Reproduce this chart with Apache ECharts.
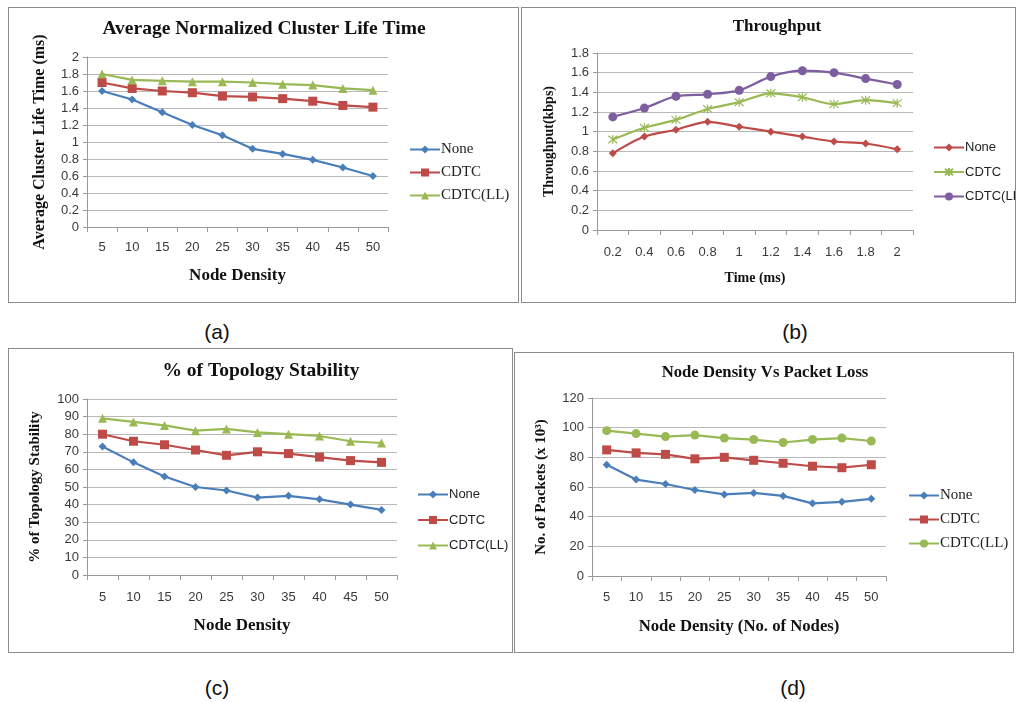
<!DOCTYPE html>
<html>
<head>
<meta charset="utf-8">
<script src="https://cdn.jsdelivr.net/npm/echarts@6/dist/echarts.min.js"></script>
<style>
  html, body { margin: 0; padding: 0; background: #fff; }
  body { width: 1016px; height: 702px; position: relative; overflow: hidden; }
  .panel { position: absolute; box-sizing: border-box; border: 1.5px solid #8c8c8c; background: #fff; }
  .cap { position: absolute; width: 60px; margin-left: -30px; text-align: center;
         font-family: 'Liberation Sans', Arial, sans-serif; font-size: 21px; color: #111; line-height: 24px; }
</style>
</head>
<body>
<div id="pa" class="panel" style="left:8px;top:7px;width:511px;height:296px"></div>
<div id="pb" class="panel" style="left:521px;top:7px;width:495px;height:296px"></div>
<div id="pc" class="panel" style="left:8px;top:348px;width:505px;height:305px"></div>
<div id="pd" class="panel" style="left:514px;top:352px;width:500px;height:301px"></div>
<div class="cap" style="left:217px;top:320px">(a)</div>
<div class="cap" style="left:795px;top:320px">(b)</div>
<div class="cap" style="left:217px;top:676px">(c)</div>
<div class="cap" style="left:793px;top:676px">(d)</div>
<script>
  // categories
  const densityLabels = ['5', '10', '15', '20', '25', '30', '35', '40', '45', '50']
  const timeLabels = ['0.2', '0.4', '0.6', '0.8', '1', '1.2', '1.4', '1.6', '1.8', '2']
  const seriesNames = ['None', 'CDTC', 'CDTC(LL)']

  // (a) average normalized cluster life time
  const lifeNone = [1.6, 1.5, 1.35, 1.2, 1.08, 0.92, 0.86, 0.79, 0.7, 0.6]
  const lifeCdtc = [1.7, 1.63, 1.6, 1.58, 1.54, 1.53, 1.51, 1.48, 1.43, 1.41]
  const lifeCdtcLL = [1.8, 1.73, 1.72, 1.71, 1.71, 1.7, 1.68, 1.67, 1.63, 1.61]

  // (b) throughput
  const tputNone = [0.78, 0.95, 1.02, 1.1, 1.05, 1.0, 0.95, 0.9, 0.88, 0.82]
  const tputCdtc = [0.92, 1.04, 1.12, 1.23, 1.3, 1.39, 1.35, 1.28, 1.32, 1.29]
  const tputCdtcLL = [1.15, 1.24, 1.36, 1.38, 1.42, 1.56, 1.62, 1.6, 1.54, 1.48]

  // (c) % of topology stability
  const stabNone = [73, 64, 56, 50, 48, 44, 45, 43, 40, 37]
  const stabCdtc = [80, 76, 74, 71, 68, 70, 69, 67, 65, 64]
  const stabCdtcLL = [89, 87, 85, 82, 83, 81, 80, 79, 76, 75]

  // (d) packet loss
  const lossNone = [75, 65, 62, 58, 55, 56, 54, 49, 50, 52]
  const lossCdtc = [85, 83, 82, 79, 80, 78, 76, 74, 73, 75]
  const lossCdtcLL = [98, 96, 94, 95, 93, 92, 90, 92, 93, 91]

  const blue = '#4a7ebb'
  const red = '#be4b48'
  const green = '#98b954'
  const purple = '#7d5fa0'

  const serif = "'Liberation Serif', 'Times New Roman', serif"
  const sans = "'Liberation Sans', Arial, sans-serif"
  const star = 'path://M-5,-5L5,5M-5,5L5,-5M0,-6L0,6'

  const markers = {
    diamond: { symbol: 'diamond', symbolSize: 8 },
    square: { symbol: 'rect', symbolSize: 9 },
    triangle: { symbol: 'triangle', symbolSize: 9 },
    circle: { symbol: 'circle', symbolSize: 9 },
    star: { symbol: star, symbolSize: 9 },
  }

  const makeSeries = (name, data, color, marker, smooth) => {
    const s = {
      name,
      type: 'line',
      data,
      smooth: smooth ? 0.3 : false,
      symbol: markers[marker].symbol,
      symbolSize: markers[marker].symbolSize,
      showAllSymbol: true,
      lineStyle: { color, width: 2.2 },
      itemStyle: { color },
      emphasis: { disabled: true },
    }
    if (marker === 'star') {
      s.itemStyle = { color: 'none', borderColor: color, borderWidth: 1.2 }
    }
    return s
  }

  const makeOption = (p) => ({
    animation: false,
    title: {
      text: p.title,
      left: p.titleX,
      top: p.titleTop,
      padding: 0,
      textAlign: 'center',
      textStyle: { fontFamily: serif, fontWeight: 'bold', fontSize: p.titleSize, color: '#111' },
    },
    grid: p.grid,
    legend: {
      orient: 'vertical',
      left: p.legend.left,
      top: p.legend.top,
      padding: 0,
      itemWidth: 30,
      itemHeight: 10,
      itemGap: p.legend.gap,
      data: seriesNames,
      textStyle: {
        fontFamily: p.legend.serif ? serif : sans,
        fontSize: p.legend.serif ? 15 : 13,
        color: '#222',
        padding: [0, 0, 0, -4],
      },
    },
    xAxis: {
      type: 'category',
      data: p.categories,
      boundaryGap: true,
      name: p.xName,
      nameLocation: 'middle',
      nameGap: p.xNameGap,
      nameTextStyle: { fontFamily: serif, fontWeight: 'bold', fontSize: p.xNameSize, color: '#111' },
      axisLine: { lineStyle: { color: '#9a9a9a', width: 1 } },
      axisTick: { show: true, length: 5, lineStyle: { color: '#9a9a9a' } },
      axisLabel: { margin: p.xLabelMargin, fontFamily: sans, fontSize: 13, color: '#3a3a3a' },
      splitLine: { show: false },
    },
    yAxis: {
      type: 'value',
      min: 0,
      max: p.yMax,
      interval: p.yStep,
      name: p.yName,
      nameLocation: 'middle',
      nameGap: p.yNameGap,
      nameTextStyle: { fontFamily: serif, fontWeight: 'bold', fontSize: p.yNameSize, color: '#111' },
      axisLine: { show: true, lineStyle: { color: '#9a9a9a', width: 1 } },
      axisTick: { show: true, length: 4, lineStyle: { color: '#9a9a9a' } },
      axisLabel: { margin: 8, fontFamily: sans, fontSize: 13, color: '#3a3a3a' },
      splitLine: { show: true, lineStyle: { color: '#b8b8b8', width: 1 } },
    },
    series: p.series,
  })

  const panels = {
    pa: makeOption({
      title: 'Average Normalized Cluster Life Time', titleX: 255, titleTop: 11, titleSize: 19.5,
      grid: { left: 78, top: 49, width: 301, height: 170 },
      legend: { left: 400, top: 134, gap: 8, serif: true },
      categories: densityLabels,
      xName: 'Node Density', xNameGap: 40, xNameSize: 17, xLabelMargin: 14,
      yName: 'Average Cluster Life Time (ms)', yNameGap: 39, yNameSize: 16,
      yMax: 2, yStep: 0.2,
      series: [
        makeSeries('None', lifeNone, blue, 'diamond'),
        makeSeries('CDTC', lifeCdtc, red, 'square'),
        makeSeries('CDTC(LL)', lifeCdtcLL, green, 'triangle'),
      ],
    }),
    pb: makeOption({
      title: 'Throughput', titleX: 255, titleTop: 10, titleSize: 17,
      grid: { left: 75, top: 45, width: 316, height: 177 },
      legend: { left: 411, top: 133, gap: 11.5, serif: false },
      categories: timeLabels,
      xName: 'Time (ms)', xNameGap: 41, xNameSize: 14, xLabelMargin: 16,
      yName: 'Throughput(kbps)', yNameGap: 41, yNameSize: 14,
      yMax: 1.8, yStep: 0.2,
      series: [
        makeSeries('None', tputNone, red, 'diamond', true),
        makeSeries('CDTC', tputCdtc, green, 'star', true),
        makeSeries('CDTC(LL)', tputCdtcLL, purple, 'circle', true),
      ],
    }),
    pc: makeOption({
      title: '% of Topology Stability', titleX: 252, titleTop: 12, titleSize: 19.5,
      grid: { left: 78, top: 50, width: 310, height: 176 },
      legend: { left: 408, top: 139, gap: 12.5, serif: false },
      categories: densityLabels,
      xName: 'Node Density', xNameGap: 42, xNameSize: 17, xLabelMargin: 16,
      yName: '% of Topology Stability', yNameGap: 44, yNameSize: 15,
      yMax: 100, yStep: 10,
      series: [
        makeSeries('None', stabNone, blue, 'diamond'),
        makeSeries('CDTC', stabCdtc, red, 'square'),
        makeSeries('CDTC(LL)', stabCdtcLL, green, 'triangle'),
      ],
    }),
    pd: makeOption({
      title: 'Node Density Vs Packet Loss', titleX: 250, titleTop: 11, titleSize: 16.7,
      grid: { left: 77, top: 45, width: 294, height: 178 },
      legend: { left: 393, top: 135, gap: 9, serif: true },
      categories: densityLabels,
      xName: 'Node Density (No. of Nodes)', xNameGap: 42, xNameSize: 16.7, xLabelMargin: 15,
      yName: 'No. of Packets (x 10³)', yNameGap: 43, yNameSize: 15,
      yMax: 120, yStep: 20,
      series: [
        makeSeries('None', lossNone, blue, 'diamond'),
        makeSeries('CDTC', lossCdtc, red, 'square'),
        makeSeries('CDTC(LL)', lossCdtcLL, green, 'circle'),
      ],
    }),
  }

  Object.keys(panels).forEach((id) => {
    const chart = echarts.init(document.getElementById(id))
    chart.setOption(panels[id])
  })
</script>
</body>
</html>
